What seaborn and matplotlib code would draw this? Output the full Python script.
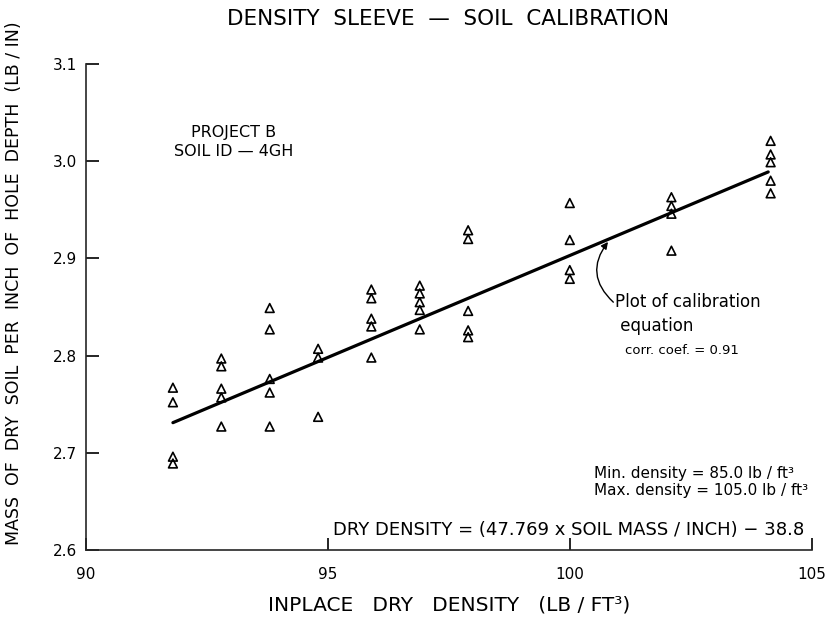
import pandas as pd
import matplotlib
matplotlib.use('Agg')
import matplotlib.pyplot as plt
import seaborn as sns

# точки (по столбцам)
col_x = [91.8, 92.8, 93.8, 94.8, 95.9, 96.9, 97.9, 100.0, 102.1, 104.15]
col_y = [
    [2.767, 2.752, 2.696, 2.689],
    [2.797, 2.789, 2.766, 2.757, 2.727],
    [2.849, 2.827, 2.776, 2.762, 2.727],
    [2.807, 2.798, 2.737],
    [2.868, 2.859, 2.838, 2.830, 2.798],
    [2.872, 2.864, 2.855, 2.847, 2.827],
    [2.929, 2.920, 2.846, 2.826, 2.819],
    [2.957, 2.919, 2.888, 2.879],
    [2.963, 2.954, 2.946, 2.908],
    [3.021, 3.007, 2.999, 2.980, 2.967],
]

# линия калибровки
line_x = [91.8, 104.1]
line_y = [2.731, 2.989]

x_ticks = [90, 95, 100, 105]
y_ticks = [2.6, 2.7, 2.8, 2.9, 3.0, 3.1]

D = pd.DataFrame({
    'density': [x for x, ys in zip(col_x, col_y) for _ in ys],
    'mass': [y for ys in col_y for y in ys],
})

sns.set_style('ticks')
plt.rcParams['font.family'] = ['DejaVu Sans']
plt.rcParams['text.color'] = 'black'
plt.rcParams['axes.labelcolor'] = 'black'
plt.rcParams['xtick.color'] = 'black'
plt.rcParams['ytick.color'] = 'black'

fig = plt.figure(figsize=(8.33, 6.19), dpi=100)
ax = fig.add_axes([0.103, 0.1115, 0.8715, 0.785])

sns.scatterplot(data=D, x='density', y='mass', marker='^', s=40,
                facecolor='none', edgecolor='black', linewidth=1.2, ax=ax)
sns.lineplot(x=line_x, y=line_y, color='black', linewidth=2.3, ax=ax)

ax.set_xlim(90, 105)
ax.set_ylim(2.6, 3.1)
ax.set_xticks(x_ticks)
ax.set_xticklabels([str(t) for t in x_ticks])
ax.set_yticks(y_ticks)
ax.set_yticklabels([f'{t:.1f}' for t in y_ticks])
ax.tick_params(direction='in', length=9, width=1.2, labelsize=11, pad=12)
ax.tick_params(axis='y', pad=6)
sns.despine(ax=ax)
for s in ['left', 'bottom']:
    ax.spines[s].set_linewidth(1.2)

ax.set_xlabel('INPLACE   DRY   DENSITY   (LB / FT³)', fontsize=14.5, labelpad=10)
ax.set_ylabel('MASS  OF  DRY  SOIL  PER  INCH  OF  HOLE  DEPTH  (LB / IN)',
              fontsize=12.5)
ax.yaxis.set_label_coords(-0.087, 0.55)
fig.text(0.538, 0.970, 'DENSITY  SLEEVE  —  SOIL  CALIBRATION',
         ha='center', va='center', fontsize=15.5)

ax.text(93.05, 3.02, 'PROJECT B\nSOIL ID — 4GH', ha='center', va='center',
        fontsize=11.5, linespacing=1.3)

ax.annotate('', xy=(100.79, 2.917), xytext=(100.9, 2.855),
            arrowprops=dict(arrowstyle='-|>', color='black', lw=1.0,
                            connectionstyle='arc3,rad=-0.45',
                            shrinkA=0, shrinkB=0))
ax.text(100.93, 2.843, 'Plot of calibration\n equation', ha='left',
        va='center', fontsize=12, linespacing=1.45)
ax.text(101.15, 2.805, 'corr. coef. = 0.91', ha='left', va='center',
        fontsize=9.5)

ax.text(100.5, 2.67, 'Min. density = 85.0 lb / ft³\nMax. density = 105.0 lb / ft³',
        ha='left', va='center', fontsize=11, linespacing=1.2)
ax.text(95.1, 2.621, 'DRY DENSITY = (47.769 x SOIL MASS / INCH) − 38.8',
        ha='left', va='center', fontsize=13)

plt.savefig('out.png', dpi=100)
